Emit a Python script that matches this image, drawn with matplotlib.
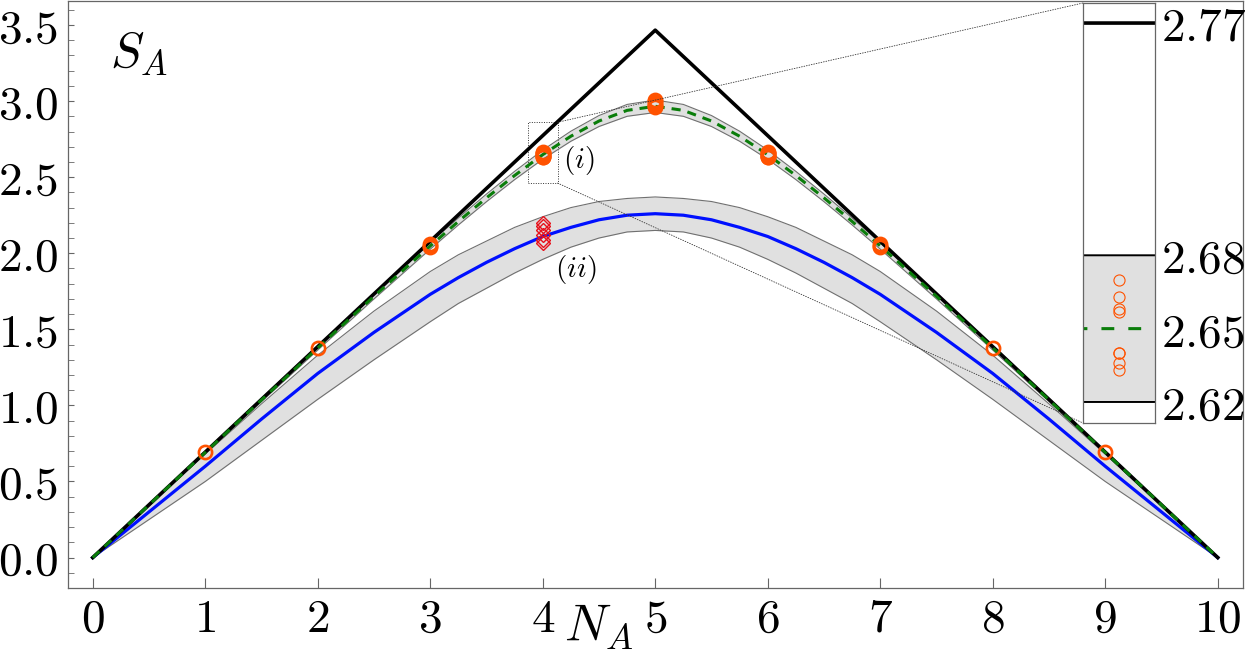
import matplotlib
matplotlib.use('Agg')
import matplotlib.pyplot as plt
from matplotlib.patches import Rectangle, ConnectionPatch
from matplotlib.ticker import FixedLocator, MultipleLocator

plt.rcParams['mathtext.fontset'] = 'cm'
plt.rcParams['font.family'] = 'serif'

# grid of subsystem sizes used for the smooth curves
N_grid = [0, 0.5, 1, 1.5, 2, 2.5, 3, 3.25, 3.5, 3.75, 4, 4.25, 4.5, 4.75, 5,
          5.25, 5.5, 5.75, 6, 6.25, 6.5, 6.75, 7, 7.5, 8, 8.5, 9, 9.5, 10]

# black: maximal entanglement line
N_int = [0, 1, 2, 3, 4, 5, 6, 7, 8, 9, 10]
S_max = [0, 0.693, 1.386, 2.079, 2.773, 3.466, 2.773, 2.079, 1.386, 0.693, 0]

# green dashed curve (i) and its band
S_i = [0, 0.346, 0.691, 1.036, 1.378, 1.717, 2.048, 2.209, 2.364, 2.511, 2.648, 2.769, 2.869, 2.939, 2.966,
       2.939, 2.869, 2.769, 2.648, 2.511, 2.364, 2.209, 2.048, 1.717, 1.378, 1.036, 0.691, 0.346, 0]
S_i_hi = [0, 0.350, 0.699, 1.047, 1.392, 1.734, 2.069, 2.232, 2.389, 2.538, 2.678, 2.802, 2.905, 2.978, 3.007,
          2.978, 2.905, 2.802, 2.678, 2.538, 2.389, 2.232, 2.069, 1.734, 1.392, 1.047, 0.699, 0.350, 0]
S_i_lo = [0, 0.342, 0.683, 1.025, 1.364, 1.700, 2.027, 2.186, 2.339, 2.484, 2.618, 2.736, 2.833, 2.900, 2.925,
          2.900, 2.833, 2.736, 2.618, 2.484, 2.339, 2.186, 2.027, 1.700, 1.364, 1.025, 0.683, 0.342, 0]

# blue curve (ii) and its band
S_ii = [0, 0.30, 0.60, 0.91, 1.21, 1.48, 1.73, 1.84, 1.94, 2.03, 2.11, 2.17, 2.22, 2.25, 2.26,
        2.25, 2.22, 2.17, 2.11, 2.03, 1.94, 1.84, 1.73, 1.48, 1.21, 0.91, 0.60, 0.30, 0]
S_ii_hi = [0, 0.34, 0.68, 1.01, 1.33, 1.62, 1.88, 1.99, 2.08, 2.17, 2.24, 2.30, 2.34, 2.36, 2.37,
           2.36, 2.34, 2.30, 2.24, 2.17, 2.08, 1.99, 1.88, 1.62, 1.33, 1.01, 0.68, 0.34, 0]
S_ii_lo = [0, 0.25, 0.50, 0.77, 1.04, 1.30, 1.55, 1.67, 1.77, 1.87, 1.96, 2.04, 2.10, 2.14, 2.15,
           2.14, 2.10, 2.04, 1.96, 1.87, 1.77, 1.67, 1.55, 1.30, 1.04, 0.77, 0.50, 0.25, 0]

# sampled states (orange circles)
circ_N = [1, 2, 3, 3, 3,
          4, 4, 4, 4, 4, 4, 4, 4,
          5, 5, 5, 5, 5, 5,
          6, 6, 6, 6, 6, 6, 6, 6,
          7, 7, 7, 8, 9]
circ_S = [0.691, 1.378, 2.040, 2.050, 2.060,
          2.668, 2.661, 2.656, 2.655, 2.638, 2.638, 2.634, 2.631,
          2.958, 2.966, 2.975, 2.990, 3.000, 3.008,
          2.668, 2.661, 2.656, 2.655, 2.638, 2.638, 2.634, 2.631,
          2.042, 2.050, 2.058, 1.378, 0.691]

# red diamonds at N_A = 4
diam_N = [4, 4, 4, 4, 4, 4]
diam_S = [2.20, 2.18, 2.15, 2.12, 2.09, 2.07]

orange = '#ff5200'
band_col = '#e0e0e0'


def draw_curves(ax, lw_scale=1.0, band_edge='#707070', band_lw=0.8, dash=(3, 2.3)):
    ax.fill_between(N_grid, S_ii_lo, S_ii_hi, color=band_col, lw=0)
    ax.plot(N_grid, S_ii_hi, color=band_edge, lw=band_lw)
    ax.plot(N_grid, S_ii_lo, color=band_edge, lw=band_lw)
    ax.fill_between(N_grid, S_i_lo, S_i_hi, color=band_col, lw=0)
    ax.plot(N_grid, S_i_hi, color=band_edge, lw=band_lw)
    ax.plot(N_grid, S_i_lo, color=band_edge, lw=band_lw)
    ax.plot(N_grid, S_ii, color='#0010ff', lw=2.3 * lw_scale)
    ax.plot(N_int, S_max, color='black', lw=2.6 * lw_scale)
    ax.plot(N_grid, S_i, color='#0a7d0a', lw=2.2 * lw_scale, dashes=dash)


fig = plt.figure(figsize=(12.45, 6.57), dpi=100)
ax = fig.add_axes([0.0546, 0.105, 0.9434, 0.894])

draw_curves(ax)
ax.plot(diam_N, diam_S, ls='none', marker='D', ms=7, mfc='none', mec='#e8101a', mew=1.0)
ax.plot(circ_N, circ_S, ls='none', marker='o', ms=9.5, mfc='none', mec=orange, mew=1.9)

ax.set_xlim(-0.22, 10.22)
ax.set_ylim(-0.2, 3.66)
ax.set_xticks(N_int)
ax.set_xticklabels(['$%d$' % n for n in N_int])
yt = [0, 0.5, 1.0, 1.5, 2.0, 2.5, 3.0, 3.5]
ax.set_yticks(yt)
ax.set_yticklabels(['$%.1f$' % v for v in yt])
ax.yaxis.set_minor_locator(MultipleLocator(0.1))
ax.tick_params(axis='both', which='both', direction='in', color='#666666', labelsize=34)
ax.tick_params(axis='x', length=7, pad=6)
ax.tick_params(axis='y', which='both', length=4, pad=7)
for s in ax.spines.values():
    s.set_color('#666666')
    s.set_linewidth(0.9)

ax.text(0.15, 3.32, '$S_A$', fontsize=36, ha='left', va='center')
ax.text(4.18, 2.61, '$(i)$', fontsize=21, ha='left', va='center')
ax.text(4.11, 1.89, '$(ii)$', fontsize=21, ha='left', va='center')
ax.text(4.5, -0.46, '$N_A$', fontsize=37, ha='center', va='center', clip_on=False)

# dotted box around the zoomed region
rx0, rx1, ry0, ry1 = 3.867, 4.133, 2.461, 2.861
ax.add_patch(Rectangle((rx0, ry0), rx1 - rx0, ry1 - ry0, fill=False, ls=(0, (1, 1.5)), lw=0.7, color='#333333'))

# inset
ins = fig.add_axes([1083 / 1245, (657 - 423) / 657, 72 / 1245, 420 / 657])
draw_curves(ins, band_edge='black', band_lw=1.4, dash=(4.2, 4.6))
ins.plot([n for n in circ_N if n == 4], [s for n, s in zip(circ_N, circ_S) if n == 4],
         ls='none', marker='o', ms=8, mfc='none', mec=orange, mew=0.8)
ins.set_xlim(4 - 1e-6, 4 + 1e-6)
ins.set_ylim(2.6094, 2.7812)
i4 = N_grid.index(4)
inset_ticks = [S_max[4], S_i_hi[i4], S_i[i4], S_i_lo[i4]]
ins.set_xticks([])
ins.yaxis.set_major_locator(FixedLocator(inset_ticks))
ins.set_yticklabels(['$%.2f$' % v for v in inset_ticks])
ins.yaxis.tick_right()
ins.tick_params(axis='y', length=0, pad=4, labelsize=34)
for s in ins.spines.values():
    s.set_color('#666666')
    s.set_linewidth(0.9)

for xyA, xyB in [((rx1, ry1), (0, 1)), ((rx1, ry0), (0, 0))]:
    con = ConnectionPatch(xyA=xyA, coordsA=ax.transData, xyB=xyB, coordsB=ins.transAxes,
                          ls=(0, (1, 2)), lw=0.6, color='#333333')
    fig.add_artist(con)

fig.savefig('out.png', dpi=100)
